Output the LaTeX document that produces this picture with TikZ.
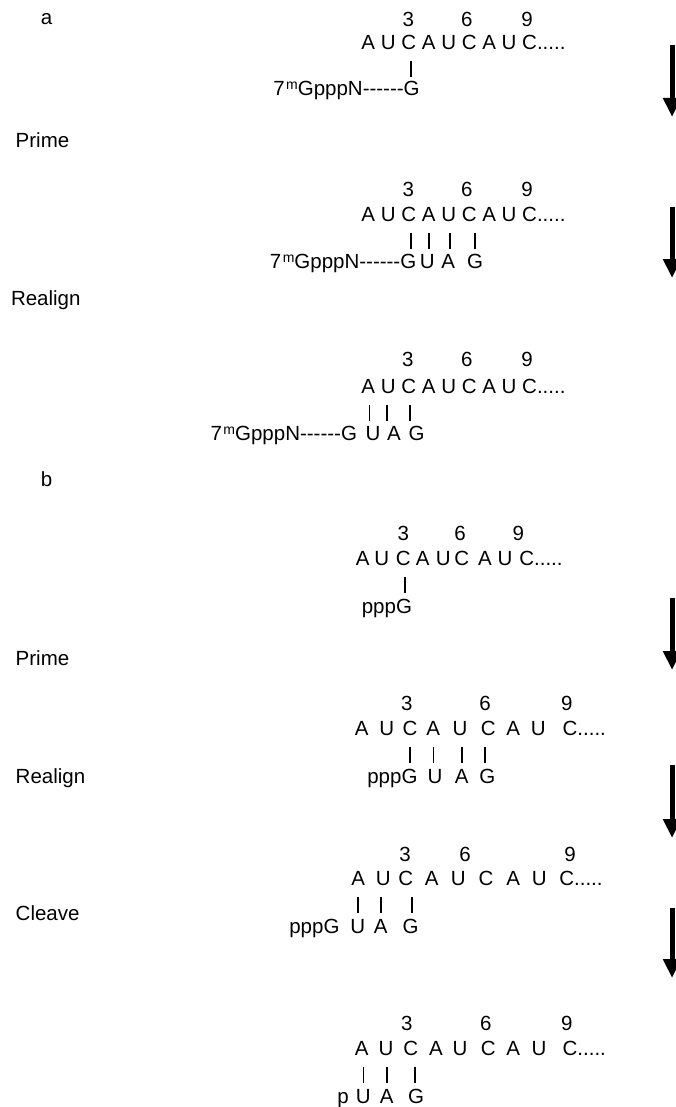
\documentclass[tikz,border=0pt]{standalone}
\usepackage{fontspec}
\setmainfont{Liberation Sans}[Ligatures=TeXOff]
\usetikzlibrary{arrows.meta}
\tikzset{
  txt/.style={inner sep=0pt, outer sep=0pt, anchor=base, font=\fontsize{20.5}{24}\selectfont},
  lbl/.style={txt, anchor=base west},
  pre/.style={txt, anchor=base east},
  bp/.style={line width=1.6pt},
  flow/.style={line width=5pt, -{Triangle[width=17pt,length=19pt]}},
}
\newcommand{\seqrow}[3]{%
  \foreach \xx/\ll [count=\ii] in {#3} {\node[txt] (#1-\ii) at (\xx,#2) {\ll};}%
}
\newcommand{\bpr}[2]{\draw[bp] ([xshift=#2pt,yshift=-11.5pt]#1.base) -- ++(0,16);}
\newcommand{\capm}{7\kern1.5pt\raisebox{5.5pt}{\fontsize{14}{14}\selectfont m}GpppN------}
\begin{document}
\begin{tikzpicture}[x=1pt,y=-1pt]
\useasboundingbox (0,0) rectangle (675,1107);
% ---------- labels
\node[txt] (la) at (46.5,25) {a};
\node[lbl] (lprime1) at (15.7,148) {Prime};
\node[lbl] (lrealign1) at (11,305) {Realign};
\node[txt] (lb) at (46.5,486) {b};
\node[lbl] (lprime2) at (15.7,665) {Prime};
\node[lbl] (lrealign2) at (15.7,783) {Realign};
\node[lbl] (lcleave) at (15.7,920) {Cleave};
% ---------- arrows
\coordinate (ar1a) at (672,45);  \coordinate (ar1b) at (672,117);
\coordinate (ar2a) at (672,207); \coordinate (ar2b) at (672,278);
\coordinate (ar3a) at (672,598); \coordinate (ar3b) at (672,670);
\coordinate (ar4a) at (672,765); \coordinate (ar4b) at (672,838);
\coordinate (ar5a) at (672,908); \coordinate (ar5b) at (672,978);
\draw[flow] (ar1a) -- (ar1b);
\draw[flow] (ar2a) -- (ar2b);
\draw[flow] (ar3a) -- (ar3b);
\draw[flow] (ar4a) -- (ar4b);
\draw[flow] (ar5a) -- (ar5b);
% ================= section a, step 1
\node[txt] (a1n3) at (408.3,26.7) {3};
\node[txt] (a1n6) at (466.7,26.7) {6};
\node[txt] (a1n9) at (527,26.7) {9};
\seqrow{a1}{50}{368.3/A,388.2/U,408.8/C,428.8/A,448.7/U,469.2/C,489.1/A,509.1/U,529.6/C}
\node[txt,anchor=base west] (a1d) at (a1-9.base east) {.....};
\seqrow{a1b}{95.5}{411.7/G}
\node[pre] (a1p) at (a1b-1.base west) {\capm};
\bpr{a1-3}{2.2}
% ================= section a, step 2
\node[txt] (a2n3) at (408.3,196.7) {3};
\node[txt] (a2n6) at (466.7,196.7) {6};
\node[txt] (a2n9) at (527,196.7) {9};
\seqrow{a2}{221.7}{368.3/A,388.2/U,408.8/C,428.8/A,448.7/U,469.2/C,489.1/A,509.1/U,529.6/C}
\node[txt,anchor=base west] (a2d) at (a2-9.base east) {.....};
\seqrow{a2b}{268}{408.3/G,427.3/U,448.3/A,475/G}
\node[pre] (a2p) at (a2b-1.base west) {\capm};
\bpr{a2-3}{2.2}\bpr{a2-4}{0.2}\bpr{a2-5}{1.3}\bpr{a2-6}{5.8}
% ================= section a, step 3
\node[txt] (a3n3) at (407.7,366.7) {3};
\node[txt] (a3n6) at (466.7,366.7) {6};
\node[txt] (a3n9) at (527,366.7) {9};
\seqrow{a3}{393.3}{368.3/A,388.2/U,408.8/C,428.8/A,448.7/U,469.2/C,489.1/A,509.1/U,529.6/C}
\node[txt,anchor=base west] (a3d) at (a3-9.base east) {.....};
\seqrow{a3b}{440}{349/G,373/U,394/A,416.7/G}
\node[pre] (a3p) at (a3b-1.base west) {\capm};
\bpr{a3-1}{1}\bpr{a3-2}{-1.5}\bpr{a3-3}{1.2}
% ================= section b, step 1
\node[txt] (b1n3) at (403.3,540) {3};
\node[txt] (b1n6) at (460,540) {6};
\node[txt] (b1n9) at (518.3,540) {9};
\seqrow{b1}{565}{362.7/A,381.7/U,403.3/C,422.7/A,443.3/U,461.7/C,485/A,505/U,526.7/C}
\node[txt,anchor=base west] (b1d) at (b1-9.base east) {.....};
\seqrow{b1b}{613.3}{404/G}
\node[pre] (b1p) at (b1b-1.base west) {ppp};
\bpr{b1-3}{1.7}
% ================= section b, step 2
\node[txt] (b2n3) at (406.7,710) {3};
\node[txt] (b2n6) at (485,710) {6};
\node[txt] (b2n9) at (566.7,710) {9};
\seqrow{b2}{735}{361.7/A,386.7/U,410/C,433.3/A,460/U,488.3/C,513.3/A,538.3/U,570/C}
\node[txt,anchor=base west] (b2d) at (b2-9.base east) {.....};
\seqrow{b2b}{783.3}{409.5/G,435/U,461.7/A,487.3/G}
\node[pre] (b2p) at (b2b-1.base west) {ppp};
\bpr{b2-3}{0}\bpr{b2-4}{0}\bpr{b2-5}{1.7}\bpr{b2-6}{-3.3}
% ================= section b, step 3
\node[txt] (b3n3) at (405,861.7) {3};
\node[txt] (b3n6) at (465,861.7) {6};
\node[txt] (b3n9) at (570,861.7) {9};
\seqrow{b3}{885}{358.3/A,383.3/U,405.7/C,431.7/A,458.3/U,486/C,513.3/A,539.3/U,566.7/C}
\node[txt,anchor=base west] (b3d) at (b3-9.base east) {.....};
\seqrow{b3b}{933.3}{331.5/G,357.7/U,380.7/A,410.7/G}
\node[pre] (b3p) at (b3b-1.base west) {ppp};
\bpr{b3-1}{-0.6}\bpr{b3-2}{-2.3}\bpr{b3-3}{6}
% ================= section b, step 4
\node[txt] (b4n3) at (406.7,1030) {3};
\node[txt] (b4n6) at (485.7,1030) {6};
\node[txt] (b4n9) at (566.7,1030) {9};
\seqrow{b4}{1055}{361.7/A,386/U,410.7/C,436/A,460/U,488.3/C,513.3/A,539/U,570/C}
\node[txt,anchor=base west] (b4d) at (b4-9.base east) {.....};
\seqrow{b4b}{1103.3}{343/p,363.3/U,386.7/A,416/G}
\bpr{b4-1}{1.6}\bpr{b4-2}{0.7}\bpr{b4-3}{4.3}
\end{tikzpicture}
\end{document}
